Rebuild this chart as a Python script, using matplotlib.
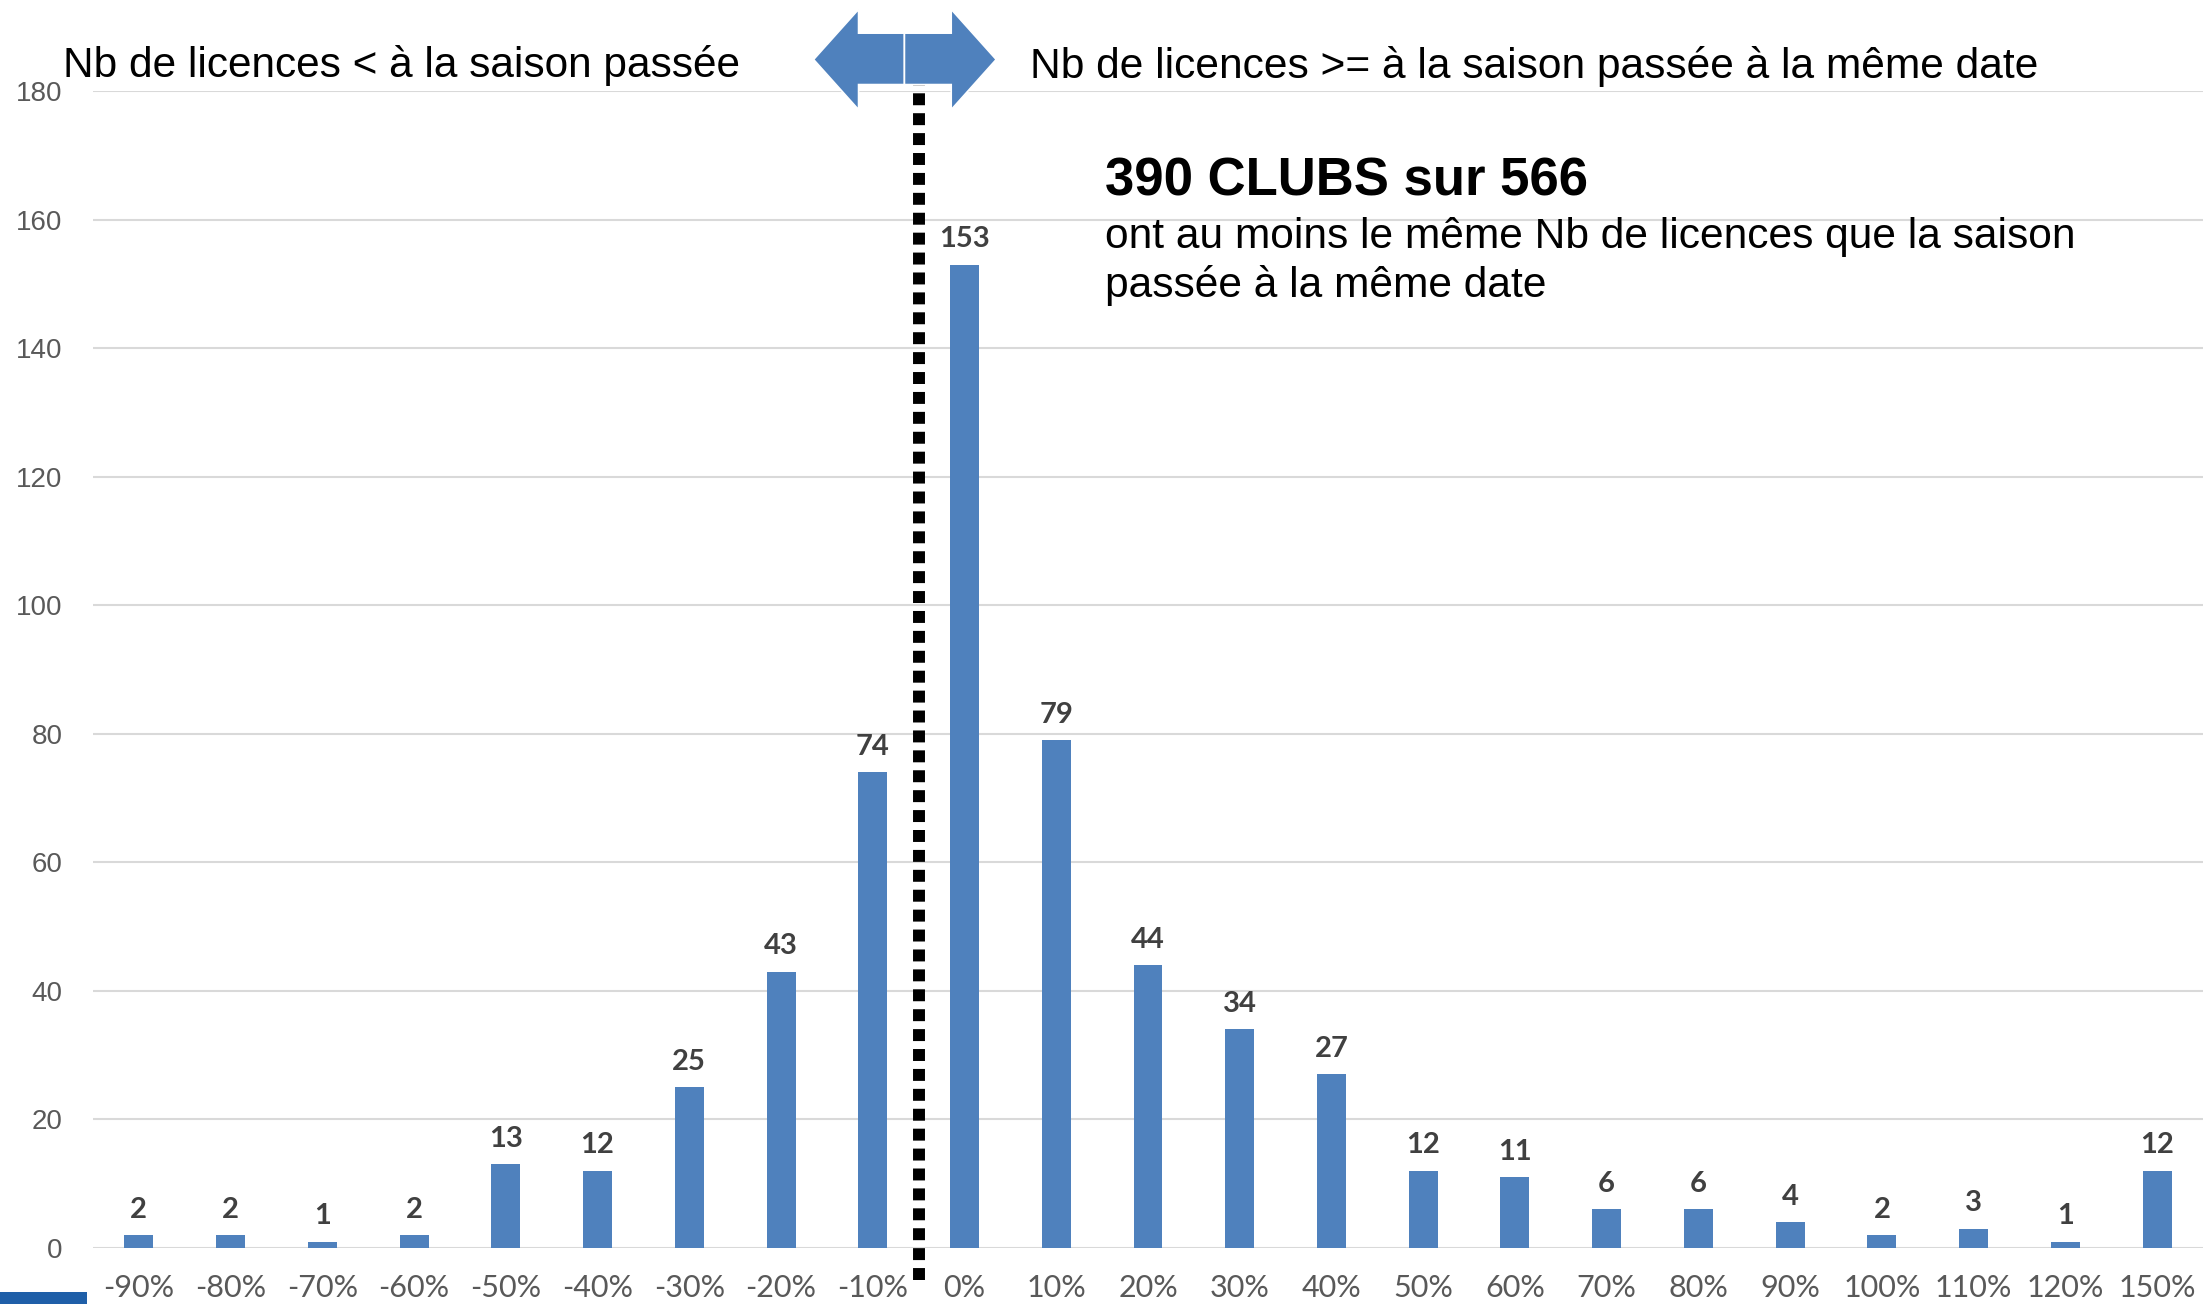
import matplotlib
matplotlib.use("Agg")
from matplotlib import pyplot as plt
from matplotlib.patches import Polygon, Rectangle

categories = ['-90%', '-80%', '-70%', '-60%', '-50%', '-40%', '-30%', '-20%', '-10%',
              '0%', '10%', '20%', '30%', '40%', '50%', '60%', '70%', '80%', '90%',
              '100%', '110%', '120%', '150%']
counts = [2, 2, 1, 2, 13, 12, 25, 43, 74,
          153, 79, 44, 34, 27, 12, 11, 6, 6, 4, 2, 3, 1, 12]
yticks = [0, 20, 40, 60, 80, 100, 120, 140, 160, 180]

W, H = 2203, 1304
fig = plt.figure(figsize=(W / 100, H / 100), dpi=100)
ax = fig.add_axes([93 / W, 1 - 1248 / H, (W - 93) / W, (1248 - 91) / H])

blue = '#4f81bd'
x = list(range(len(categories)))
ax.bar(x, counts, width=0.316, color=blue, zorder=3)

# data labels
for i, v in enumerate(counts):
    ax.annotate(str(v), (i, v), xytext=(0, 9), textcoords='offset points',
                ha='center', va='bottom', fontsize=21, fontweight='bold',
                color='#404040', family='Lato')

ax.set_xlim(-0.5, len(categories) - 0.5)
ax.set_ylim(0, 180)
ax.set_yticks(yticks)
ax.set_xticks(x)
ax.set_xticklabels(categories, family='Lato', fontsize=22, color='#595959')
ax.set_yticklabels([str(t) for t in yticks], family='Liberation Sans', fontsize=20, color='#595959')
ax.tick_params(axis='both', length=0)
ax.tick_params(axis='x', pad=19)
ax.tick_params(axis='y', pad=22)
ax.grid(axis='y', color='#d9d9d9', linewidth=1.5, zorder=0)
for s in ax.spines.values():
    s.set_visible(False)

# separation between "<" and ">=" (between -10% and 0%)
split = categories.index('0%') - 0.5
ax.plot([split, split], [-5, 181], color='black', linewidth=8.6,
        linestyle=(0, (1, 0.667)), dash_capstyle='butt', clip_on=False, zorder=4)

# double arrow above the split
mid = split - 0.155
left = [(mid, 181), (mid, 189), (mid - 0.5, 189), (mid - 0.5, 192.7), (mid - 0.99, 184.9),
        (mid - 0.5, 177.1), (mid - 0.5, 181)]
right = [(mid, 181), (mid, 189), (mid + 0.51, 189), (mid + 0.51, 192.7), (mid + 1.0, 184.9),
         (mid + 0.51, 177.1), (mid + 0.51, 181)]
for pts in (left, right):
    ax.add_patch(Polygon(pts, closed=True, facecolor=blue, edgecolor='white',
                         linewidth=1.2, clip_on=False, zorder=5))

# texts
fig.text(63 / W, 1 - 77 / H, "Nb de licences < à la saison passée", fontsize=30.5,
         family='Liberation Sans', va='baseline', ha='left')
fig.text(1030 / W, 1 - 78 / H, "Nb de licences >= à la saison passée à la même date",
         fontsize=30.6, family='Liberation Sans', va='baseline', ha='left')
fig.text(1105 / W, 1 - 195 / H, "390 CLUBS sur 566", fontsize=38, fontweight='bold',
         family='Liberation Sans', va='baseline', ha='left')
fig.text(1105 / W, 1 - 248 / H, "ont au moins le même Nb de licences que la saison",
         fontsize=30.6, family='Liberation Sans', va='baseline', ha='left')
fig.text(1105 / W, 1 - 297 / H, "passée à la même date",
         fontsize=30.6, family='Liberation Sans', va='baseline', ha='left')

# small blue tab bottom-left
fig.patches.append(Rectangle((0, 0), 87 / W, 12 / H, transform=fig.transFigure,
                             facecolor='#1f5fa8', edgecolor='none'))

fig.savefig('out.png', dpi=100)
